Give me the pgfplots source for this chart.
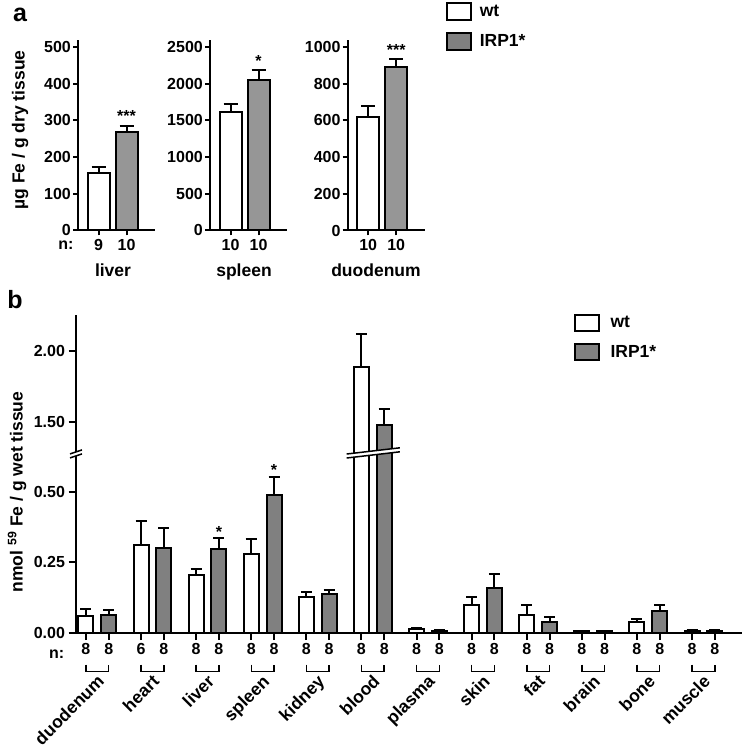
\documentclass[border=0pt]{standalone}
\usepackage{pgfplots}
\pgfplotsset{compat=1.18}
\usepackage{pgfplotstable}
\usepackage{fontspec}
\setmainfont{Liberation Sans}
\definecolor{barA}{RGB}{150,150,150}
\definecolor{barB}{RGB}{128,128,128}
\newcommand{\tk}{\fontsize{16}{19}\selectfont\bfseries}
\newcommand{\lb}{\fontsize{17.5}{20}\selectfont\bfseries}
\newcommand{\pl}{\fontsize{25}{28}\selectfont\bfseries}

% panel b: mean and SEM (nmol 59Fe / g wet tissue)
\pgfplotstableread{
g  wt    wte   irp   irpe
0  0.059 0.025 0.063 0.018
1  0.312 0.086 0.300 0.072
2  0.205 0.020 0.299 0.036
3  0.280 0.052 0.488 0.067
4  0.126 0.020 0.136 0.016
5  1.891 0.235 1.477 0.113
6  0.012 0.004 0.007 0.002
7  0.100 0.028 0.160 0.050
8  0.062 0.035 0.037 0.020
9  0.005 0.001 0.005 0.001
10 0.039 0.011 0.077 0.020
11 0.007 0.002 0.007 0.002
}\tabB

\pgfplotsset{
  boxlegend/.style={legend image code/.code={\draw[##1] (0pt,-8.35pt) rectangle (23.6pt,8.35pt);}},
  common/.style={
    axis lines=left, axis line style={-, line width=2pt},
    tick align=outside, tick style={black, line width=2pt},
    ticklabel style={font=\tk},
    /pgf/number format/assume math mode=true,
    /pgf/number format/1000 sep={},
    scaled y ticks=false, clip=false,
  },
  pa/.style={common, x=1pt, xmin=0, xmax=77, ymin=0,
    major tick length=5pt, xtick={20.5,48.5},
    yticklabel style={inner sep=2pt}},
  errA/.style={error bars/.cd, y dir=plus, y explicit,
    error bar style={line width=2pt, black},
    error mark options={rotate=90, black, line width=2pt, mark size=7pt}},
  errB/.style={error bars/.cd, y dir=plus, y explicit,
    error bar style={line width=2pt, black},
    error mark options={rotate=90, black, line width=2pt, mark size=5.5pt}},
}

\begin{document}
\begin{tikzpicture}
\useasboundingbox (0,0) rectangle (742pt,749pt);

% ---------------- panel a ----------------
\begin{axis}[pa, at={(78pt,518.5pt)}, anchor=south west,
  y=0.367pt, ymax=519, ytick={0,100,...,500}, xticklabels={9,10},
  ylabel={µg Fe / g dry tissue},
  ylabel style={at={(axis description cs:-0.753,0.528)}, anchor=center, font=\lb}]
\addplot[ybar, bar width=22pt, bar shift=0pt, fill=white, draw=black, line width=2pt, errA]
  coordinates {(20.5,157.5) +- (0,16.5)};
\addplot[ybar, bar width=22pt, bar shift=0pt, fill=barA, draw=black, line width=2pt, errA]
  coordinates {(48.5,269) +- (0,16)};
\node[anchor=base, font=\tk, inner sep=0pt] at ([yshift=4pt]axis cs:48.5,285) {***};
\end{axis}

\begin{axis}[pa, at={(210pt,518.5pt)}, anchor=south west,
  y=0.0734pt, ymax=2595, ytick={0,500,...,2500}, xticklabels={10,10}]
\addplot[ybar, bar width=22pt, bar shift=0pt, fill=white, draw=black, line width=2pt, errA]
  coordinates {(20.5,1614) +- (0,109)};
\addplot[ybar, bar width=22pt, bar shift=0pt, fill=barA, draw=black, line width=2pt, errA]
  coordinates {(48.5,2050) +- (0,132)};
\node[anchor=base, font=\tk, inner sep=0pt] at ([yshift=4pt]axis cs:48.5,2182) {*};
\end{axis}

\begin{axis}[pa, at={(347.7pt,518.5pt)}, anchor=south west,
  y=0.1835pt, ymax=1038, ytick={0,200,...,1000}, xticklabels={10,10},
  legend cell align=left,
  legend style={at={(axis description cs:1.2766,1.1995)}, anchor=north west,
    draw=none, fill=none, inner sep=0pt, row sep=11.3pt, column sep=8pt,
    nodes={inner sep=0pt, font=\lb}}]
\addplot[forget plot, ybar, bar width=22pt, bar shift=0pt, fill=white, draw=black, line width=2pt, errA]
  coordinates {(20.5,616) +- (0,60)};
\addplot[forget plot, ybar, bar width=22pt, bar shift=0pt, fill=barA, draw=black, line width=2pt, errA]
  coordinates {(48.5,892) +- (0,42)};
\node[anchor=base, font=\tk, inner sep=0pt] at ([yshift=4pt]axis cs:48.5,934) {***};
\addlegendimage{boxlegend, fill=white, draw=black, line width=2pt}
\addlegendentry{wt}
\addlegendimage{boxlegend, fill=barB, draw=black, line width=2pt}
\addlegendentry{IRP1*}
\end{axis}

\node[font=\pl] at (20pt,734pt) {a};
\node[font=\tk, anchor=base] at (66pt,499pt) {n:};
\node[font=\lb, anchor=base] at (113pt,472pt) {liver};
\node[font=\lb, anchor=base] at (244pt,472pt) {spleen};
\node[font=\lb, anchor=base] at (376pt,472pt) {duodenum};

% ---------------- panel b ----------------
\begin{axis}[common, at={(76pt,116.3pt)}, anchor=south west,
  x=55.1pt, y=281.3pt,
  xmin=-0.387, xmax=11.70, ymin=0, ymax=1.129,
  major tick length=7.5pt,
  ytick={0,0.25,0.5,0.75,1}, yticklabels={0.00,0.25,0.50,1.50,2.00},
  xtick={-0.207,0.207,0.793,1.207,1.793,2.207,2.793,3.207,3.793,4.207,4.793,5.207,5.793,6.207,6.793,7.207,7.793,8.207,8.793,9.207,9.793,10.207,10.793,11.207},
  xticklabels={8,8,6,8,8,8,8,8,8,8,8,8,8,8,8,8,8,8,8,8,8,8,8,8},
  ylabel={nmol \textsuperscript{59} Fe / g wet tissue},
  ylabel style={at={(axis description cs:-0.0886,0.443)}, anchor=center, font=\lb},
  legend cell align=left,
  legend style={at={(axis description cs:0.7473,1.0054)}, anchor=north west,
    draw=none, fill=none, inner sep=0pt, row sep=10.3pt, column sep=11pt,
    nodes={inner sep=0pt, font=\lb}}]
% broken axis: values above the break are drawn at half scale
\addplot[forget plot, ybar, bar width=15pt, bar shift=0pt, fill=white, draw=black, line width=2pt, errB]
  table[x expr=\thisrow{g}-0.207, y expr={ifthenelse(\thisrow{wt}>1,\thisrow{wt}/2,\thisrow{wt})},
        y error expr={ifthenelse(\thisrow{wt}>1,\thisrow{wte}/2,\thisrow{wte})}] {\tabB};
\addplot[forget plot, ybar, bar width=15pt, bar shift=0pt, fill=barB, draw=black, line width=2pt, errB]
  table[x expr=\thisrow{g}+0.207, y expr={ifthenelse(\thisrow{irp}>1,\thisrow{irp}/2,\thisrow{irp})},
        y error expr={ifthenelse(\thisrow{irp}>1,\thisrow{irpe}/2,\thisrow{irpe})}] {\tabB};
\addlegendimage{boxlegend, fill=white, draw=black, line width=2pt}
\addlegendentry{wt}
\addlegendimage{boxlegend, fill=barB, draw=black, line width=2pt}
\addlegendentry{IRP1*}
\node[anchor=base, font=\tk, inner sep=0pt] at ([yshift=1pt]axis cs:2.207,0.335) {*};
\node[anchor=base, font=\tk, inner sep=0pt] at ([yshift=1pt]axis cs:3.207,0.555) {*};
\pgfplotsinvokeforeach{0,...,11}{
  \draw[line width=1.5pt] ([xshift=-11.35pt,yshift=-32pt]axis cs:#1,0) -- ([xshift=-11.35pt,yshift=-39pt]axis cs:#1,0) -- ([xshift=11.35pt,yshift=-39pt]axis cs:#1,0) -- ([xshift=11.35pt,yshift=-32pt]axis cs:#1,0);
}
\coordinate (yb) at (axis cs:-0.387,0.632);
\coordinate (bb1) at (axis cs:4.526,0.621);
\coordinate (bb2) at (axis cs:5.49,0.643);
\node[anchor=base east, rotate=45, font=\lb, inner sep=0pt] at ([xshift=8pt,yshift=-50pt]axis cs:0,0) {duodenum};
\node[anchor=base east, rotate=45, font=\lb, inner sep=0pt] at ([xshift=8pt,yshift=-50pt]axis cs:1,0) {heart};
\node[anchor=base east, rotate=45, font=\lb, inner sep=0pt] at ([xshift=8pt,yshift=-50pt]axis cs:2,0) {liver};
\node[anchor=base east, rotate=45, font=\lb, inner sep=0pt] at ([xshift=8pt,yshift=-50pt]axis cs:3,0) {spleen};
\node[anchor=base east, rotate=45, font=\lb, inner sep=0pt] at ([xshift=8pt,yshift=-50pt]axis cs:4,0) {kidney};
\node[anchor=base east, rotate=45, font=\lb, inner sep=0pt] at ([xshift=8pt,yshift=-50pt]axis cs:5,0) {blood};
\node[anchor=base east, rotate=45, font=\lb, inner sep=0pt] at ([xshift=8pt,yshift=-50pt]axis cs:6,0) {plasma};
\node[anchor=base east, rotate=45, font=\lb, inner sep=0pt] at ([xshift=8pt,yshift=-50pt]axis cs:7,0) {skin};
\node[anchor=base east, rotate=45, font=\lb, inner sep=0pt] at ([xshift=8pt,yshift=-50pt]axis cs:8,0) {fat};
\node[anchor=base east, rotate=45, font=\lb, inner sep=0pt] at ([xshift=8pt,yshift=-50pt]axis cs:9,0) {brain};
\node[anchor=base east, rotate=45, font=\lb, inner sep=0pt] at ([xshift=8pt,yshift=-50pt]axis cs:10,0) {bone};
\node[anchor=base east, rotate=45, font=\lb, inner sep=0pt] at ([xshift=8pt,yshift=-50pt]axis cs:11,0) {muscle};
\end{axis}

% axis break marks
\fill[white] ([xshift=-6pt,yshift=-3pt]yb) -- ([xshift=6pt,yshift=1pt]yb) -- ([xshift=6pt,yshift=5pt]yb) -- ([xshift=-6pt,yshift=1pt]yb) -- cycle;
\draw[line width=1.5pt] ([xshift=-6pt,yshift=-3pt]yb) -- ([xshift=6pt,yshift=1pt]yb);
\draw[line width=1.5pt] ([xshift=-6pt,yshift=1pt]yb) -- ([xshift=6pt,yshift=5pt]yb);
\fill[white] (bb1) -- (bb2) -- ([yshift=4pt]bb2) -- ([yshift=4pt]bb1) -- cycle;
\draw[line width=1.5pt] (bb1) -- (bb2);
\draw[line width=1.5pt] ([yshift=4pt]bb1) -- ([yshift=4pt]bb2);

\node[font=\pl] at (15pt,449pt) {b};
\node[font=\tk, anchor=base] at (56.7pt,90pt) {n:};
\end{tikzpicture}
\end{document}
